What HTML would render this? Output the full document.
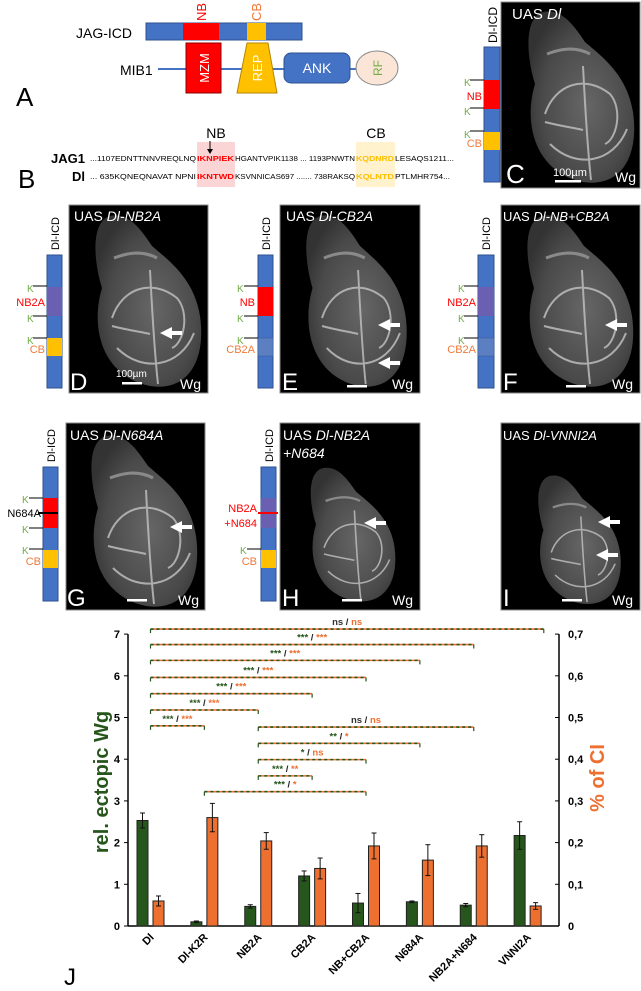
<!DOCTYPE html>
<html><head><meta charset="utf-8"><style>
html,body{margin:0;padding:0;background:#fff;}
svg{display:block;font-family:"Liberation Sans",Arial,sans-serif;}
</style></head><body>
<svg id="fig" width="641" height="991" viewBox="0 0 641 991" xmlns="http://www.w3.org/2000/svg">
<defs>
<radialGradient id="tg" cx="55%" cy="55%" r="60%"><stop offset="0" stop-color="#666"/><stop offset="0.7" stop-color="#4a4a4a"/><stop offset="1" stop-color="#333"/></radialGradient>
<g id="blob">
<path d="M38,8 C18,14 22,55 30,80 C18,120 30,168 78,178 C118,184 134,150 128,108 C122,70 96,52 80,38 C68,20 56,4 38,8 Z" fill="url(#tg)"/>
<path d="M40,110 C50,80 80,70 105,90 C118,105 112,135 100,140 M45,140 C70,165 108,160 122,125 M78,62 C80,100 82,140 86,176 M40,118 C55,122 70,124 78,126" fill="none" stroke="#bdbdbd" stroke-width="2" opacity="0.85"/>
<path d="M42,50 C55,45 70,42 85,50" fill="none" stroke="#8a8a8a" stroke-width="3"/>
</g>
</defs>

<!-- Panel A -->
<text x="16" y="106" font-size="26">A</text>
<text x="76" y="38" font-size="14">JAG-ICD</text>
<rect x="146" y="23" width="156" height="17" fill="#4472c4" stroke="#2f528f"/>
<rect x="183" y="23" width="36" height="17" fill="#ff0000"/>
<rect x="247" y="23" width="19" height="17" fill="#ffc000"/>
<text transform="translate(206,21) rotate(-90)" font-size="13" fill="#ff0000">NB</text>
<text transform="translate(261,21) rotate(-90)" font-size="13" fill="#f07a3a">CB</text>
<text x="120" y="75" font-size="14">MIB1</text>
<line x1="158" y1="69" x2="358" y2="69" stroke="#4472c4" stroke-width="2"/>
<rect x="186" y="43" width="35" height="50" fill="#ff0000" stroke="#8b0000"/>
<text transform="translate(209,68) rotate(-90)" font-size="13" fill="#fff" text-anchor="middle">MZM</text>
<path d="M247,43 L268,43 L277,93 L237,93 Z" fill="#ffc000" stroke="#b38600"/>
<text transform="translate(262,68) rotate(-90)" font-size="13" fill="#fff" text-anchor="middle">REP</text>
<rect x="284" y="53" width="66" height="30" rx="7" fill="#4472c4" stroke="#2f528f"/>
<text x="317" y="73" font-size="14" fill="#fff" text-anchor="middle">ANK</text>
<ellipse cx="377" cy="68" rx="21" ry="17" fill="#fbe5d6" stroke="#888"/>
<text transform="translate(382,68) rotate(-90)" font-size="12" fill="#70ad47" text-anchor="middle">RF</text>

<!-- Panel B -->
<text x="18" y="188" font-size="26">B</text>
<rect x="197" y="142" width="38" height="45" fill="#fbd5d5"/>
<rect x="356" y="142" width="39" height="45" fill="#fff2cc"/>
<text x="216" y="138" font-size="14" text-anchor="middle">NB</text>
<text x="376" y="138" font-size="14" text-anchor="middle">CB</text>
<line x1="210" y1="141" x2="210" y2="152" stroke="#000" stroke-width="1"/>
<path d="M207,149 L210,154 L213,149 Z" fill="#000"/>
<text x="85" y="163" font-size="13" font-weight="bold" text-anchor="end">JAG1</text>
<text x="85" y="181" font-size="13" font-weight="bold" text-anchor="end">Dl</text>
<g font-size="7">
<text x="90" y="161" textLength="106" lengthAdjust="spacingAndGlyphs">...1107EDNTTNNVREQLNQ</text>
<text x="197" y="161" textLength="37" lengthAdjust="spacingAndGlyphs" fill="#ff0000" font-weight="bold">IKNPIEK</text>
<text x="235" y="161" textLength="120" lengthAdjust="spacingAndGlyphs">HGANTVPIK1138 ... 1193PNWTN</text>
<text x="356" y="161" textLength="38" lengthAdjust="spacingAndGlyphs" fill="#ffc000" font-weight="bold">KQDNRD</text>
<text x="395" y="161" textLength="59" lengthAdjust="spacingAndGlyphs">LESAQS1211...</text>
</g>
<g font-size="7">
<text x="90" y="179" textLength="106" lengthAdjust="spacingAndGlyphs">... 635KQNEQNAVAT NPNI</text>
<text x="197" y="179" textLength="37" lengthAdjust="spacingAndGlyphs" fill="#ff0000" font-weight="bold">IKNTWD</text>
<text x="235" y="179" textLength="120" lengthAdjust="spacingAndGlyphs">KSVNNICAS697 ....... 738RAKSQ</text>
<text x="356" y="179" textLength="38" lengthAdjust="spacingAndGlyphs" fill="#ffc000" font-weight="bold">KQLNTD</text>
<text x="395" y="179" textLength="55" lengthAdjust="spacingAndGlyphs">PTLMHR754...</text>
</g>

<!-- Panel C -->
<g>
<rect x="501" y="2" width="139" height="186" fill="#000" stroke="#888"/>
<use href="#blob" transform="translate(505,4) scale(1.0,1.0)"/>
<text x="512" y="19" font-size="15" fill="#fff">UAS <tspan font-style="italic">Dl</tspan></text>
<text x="506" y="183" font-size="26" fill="#fff">C</text>
<text x="553" y="176" font-size="11" fill="#fff">100µm</text>
<rect x="555" y="180" width="26" height="2.5" fill="#fff"/>
<text x="615" y="182" font-size="14" fill="#fff">Wg</text>
<text transform="translate(497,43) rotate(-90)" font-size="12">Dl-ICD</text>
<rect x="484" y="47" width="16" height="135" fill="#4472c4" stroke="#2f528f"/>
<rect x="484" y="80" width="16" height="29" fill="#ff0000"/>
<rect x="484" y="132" width="16" height="18" fill="#ffc000"/>
<line x1="470" y1="80" x2="484" y2="80" stroke="#000"/><line x1="470" y1="108" x2="484" y2="108" stroke="#000"/><line x1="470" y1="131" x2="484" y2="131" stroke="#000"/>
<text x="464" y="86" font-size="10" fill="#70ad47">K</text><text x="464" y="115" font-size="10" fill="#70ad47">K</text><text x="464" y="138" font-size="10" fill="#70ad47">K</text>
<text x="482" y="100" font-size="11" fill="#ff0000" text-anchor="end">NB</text>
<text x="482" y="147" font-size="11" fill="#f07a3a" text-anchor="end">CB</text>
</g>

<!-- Panel D -->
<g>
<rect x="69" y="205" width="139" height="188" fill="#000" stroke="#888"/>
<use href="#blob" transform="translate(72,208)"/>
<text x="74" y="221" font-size="14" fill="#fff">UAS <tspan font-style="italic">Dl-NB2A</tspan></text>
<text x="70" y="390" font-size="24" fill="#fff">D</text>
<text x="116" y="377" font-size="10" fill="#fff">100µm</text>
<rect x="122" y="382" width="20" height="2.5" fill="#fff"/>
<text x="180" y="389" font-size="14" fill="#fff">Wg</text>
<text transform="translate(59,250) rotate(-90)" font-size="11">Dl-ICD</text>
<rect x="47" y="255" width="15" height="133" fill="#4472c4" stroke="#2f528f"/>
<rect x="47" y="287" width="15" height="29" fill="#6a5fb0"/>
<rect x="47" y="338" width="15" height="18" fill="#ffc000"/>
<line x1="33" y1="286" x2="47" y2="286" stroke="#000"/><line x1="33" y1="316" x2="47" y2="316" stroke="#000"/><line x1="33" y1="338" x2="47" y2="338" stroke="#000"/>
<text x="27" y="292" font-size="10" fill="#70ad47">K</text><text x="27" y="322" font-size="10" fill="#70ad47">K</text><text x="27" y="344" font-size="10" fill="#70ad47">K</text>
<text x="45" y="306" font-size="11" fill="#ff0000" text-anchor="end">NB2A</text>
<text x="45" y="353" font-size="11" fill="#f07a3a" text-anchor="end">CB</text>
<path d="M160,333 L172,327 L172,331 L182,331 L182,335 L172,335 L172,339 Z" fill="#fff"/>
</g>

<!-- Panel E -->
<g>
<rect x="280" y="205" width="140" height="188" fill="#000" stroke="#888"/>
<use href="#blob" transform="translate(284,208) scale(0.95,1)"/>
<text x="286" y="221" font-size="14" fill="#fff">UAS <tspan font-style="italic">Dl-CB2A</tspan></text>
<text x="282" y="390" font-size="24" fill="#fff">E</text>
<rect x="347" y="385" width="20" height="2.5" fill="#fff"/>
<text x="392" y="389" font-size="14" fill="#fff">Wg</text>
<text transform="translate(270,250) rotate(-90)" font-size="11">Dl-ICD</text>
<rect x="258" y="255" width="15" height="133" fill="#4472c4" stroke="#2f528f"/>
<rect x="258" y="287" width="15" height="29" fill="#ff0000"/>
<rect x="258" y="338" width="15" height="18" fill="#5b7fc0" stroke="#3a5a9a" stroke-width="0.5"/>
<line x1="244" y1="286" x2="258" y2="286" stroke="#000"/><line x1="244" y1="316" x2="258" y2="316" stroke="#000"/><line x1="244" y1="338" x2="258" y2="338" stroke="#000"/>
<text x="237" y="292" font-size="10" fill="#70ad47">K</text><text x="237" y="322" font-size="10" fill="#70ad47">K</text><text x="237" y="344" font-size="10" fill="#70ad47">K</text>
<text x="255" y="306" font-size="11" fill="#ff0000" text-anchor="end">NB</text>
<text x="255" y="353" font-size="11" fill="#f07a3a" text-anchor="end">CB2A</text>
<path d="M378,325 L390,319 L390,323 L400,323 L400,327 L390,327 L390,331 Z" fill="#fff"/>
<path d="M378,363 L390,357 L390,361 L400,361 L400,365 L390,365 L390,369 Z" fill="#fff"/>
</g>

<!-- Panel F -->
<g>
<rect x="501" y="205" width="139" height="188" fill="#000" stroke="#888"/>
<use href="#blob" transform="translate(504,208)"/>
<text x="503" y="221" font-size="13" fill="#fff">UAS <tspan font-style="italic">Dl-NB+CB2A</tspan></text>
<text x="503" y="390" font-size="24" fill="#fff">F</text>
<rect x="566" y="385" width="20" height="2.5" fill="#fff"/>
<text x="612" y="389" font-size="14" fill="#fff">Wg</text>
<text transform="translate(490,250) rotate(-90)" font-size="11">Dl-ICD</text>
<rect x="478" y="255" width="16" height="133" fill="#4472c4" stroke="#2f528f"/>
<rect x="478" y="287" width="16" height="29" fill="#6a5fb0"/>
<rect x="478" y="338" width="16" height="18" fill="#5b7fc0" stroke="#3a5a9a" stroke-width="0.5"/>
<line x1="464" y1="286" x2="478" y2="286" stroke="#000"/><line x1="464" y1="316" x2="478" y2="316" stroke="#000"/><line x1="464" y1="338" x2="478" y2="338" stroke="#000"/>
<text x="458" y="292" font-size="10" fill="#70ad47">K</text><text x="458" y="322" font-size="10" fill="#70ad47">K</text><text x="458" y="344" font-size="10" fill="#70ad47">K</text>
<text x="476" y="306" font-size="11" fill="#ff0000" text-anchor="end">NB2A</text>
<text x="476" y="353" font-size="11" fill="#f07a3a" text-anchor="end">CB2A</text>
<path d="M605,325 L617,319 L617,323 L627,323 L627,327 L617,327 L617,331 Z" fill="#fff"/>
</g>

<!-- Panel G -->
<g>
<rect x="66" y="423" width="139" height="187" fill="#000" stroke="#888"/>
<use href="#blob" transform="translate(68,428)"/>
<text x="70" y="440" font-size="14" fill="#fff">UAS <tspan font-style="italic">Dl-N684A</tspan></text>
<text x="67" y="606" font-size="24" fill="#fff">G</text>
<rect x="127" y="599" width="20" height="2.5" fill="#fff"/>
<text x="178" y="605" font-size="14" fill="#fff">Wg</text>
<text transform="translate(55,462) rotate(-90)" font-size="11">Dl-ICD</text>
<rect x="43" y="467" width="15" height="134" fill="#4472c4" stroke="#2f528f"/>
<rect x="43" y="498" width="15" height="30" fill="#ff0000"/>
<line x1="38" y1="513" x2="58" y2="513" stroke="#000" stroke-width="2"/>
<rect x="43" y="550" width="15" height="18" fill="#ffc000"/>
<line x1="29" y1="498" x2="43" y2="498" stroke="#000"/><line x1="29" y1="528" x2="43" y2="528" stroke="#000"/><line x1="29" y1="549" x2="43" y2="549" stroke="#000"/>
<text x="22" y="503" font-size="10" fill="#70ad47">K</text><text x="22" y="533" font-size="10" fill="#70ad47">K</text><text x="22" y="554" font-size="10" fill="#70ad47">K</text>
<text x="41" y="517" font-size="11" text-anchor="end">N684A</text>
<text x="41" y="565" font-size="11" fill="#f07a3a" text-anchor="end">CB</text>
<path d="M170,527 L182,521 L182,525 L192,525 L192,529 L182,529 L182,533 Z" fill="#fff"/>
</g>

<!-- Panel H -->
<g>
<rect x="280" y="423" width="140" height="187" fill="#000" stroke="#888"/>
<use href="#blob" transform="translate(292,462) scale(0.8,0.78)"/>
<text x="283" y="440" font-size="14" fill="#fff">UAS <tspan font-style="italic">Dl-NB2A</tspan></text>
<text x="283" y="458" font-size="14" fill="#fff" font-style="italic">+N684</text>
<text x="282" y="606" font-size="24" fill="#fff">H</text>
<rect x="342" y="599" width="20" height="2.5" fill="#fff"/>
<text x="392" y="605" font-size="14" fill="#fff">Wg</text>
<text transform="translate(273,462) rotate(-90)" font-size="11">Dl-ICD</text>
<rect x="261" y="467" width="15" height="134" fill="#4472c4" stroke="#2f528f"/>
<rect x="261" y="498" width="15" height="30" fill="#6a5fb0"/>
<line x1="258" y1="513" x2="278" y2="513" stroke="#ff0000" stroke-width="2"/>
<rect x="261" y="550" width="15" height="18" fill="#ffc000"/>
<line x1="247" y1="549" x2="261" y2="549" stroke="#000"/>
<text x="240" y="554" font-size="10" fill="#70ad47">K</text>
<text x="257" y="512" font-size="11" fill="#ff0000" text-anchor="end">NB2A</text>
<text x="257" y="527" font-size="11" fill="#ff0000" text-anchor="end">+N684</text>
<text x="257" y="565" font-size="11" fill="#f07a3a" text-anchor="end">CB</text>
<path d="M364,523 L376,517 L376,521 L386,521 L386,525 L376,525 L376,529 Z" fill="#fff"/>
</g>

<!-- Panel I -->
<g>
<rect x="501" y="423" width="139" height="187" fill="#000" stroke="#888"/>
<use href="#blob" transform="translate(520,470) scale(0.78,0.75)"/>
<text x="503" y="440" font-size="13" fill="#fff">UAS <tspan font-style="italic">Dl-VNNI2A</tspan></text>
<text x="503" y="606" font-size="24" fill="#fff">I</text>
<rect x="562" y="599" width="20" height="2.5" fill="#fff"/>
<text x="612" y="605" font-size="14" fill="#fff">Wg</text>
<path d="M598,522 L610,516 L610,520 L620,520 L620,524 L610,524 L610,528 Z" fill="#fff"/>
<path d="M596,555 L608,549 L608,553 L618,553 L618,557 L608,557 L608,561 Z" fill="#fff"/>
</g>

<!-- Panel J chart -->
<text x="64" y="985" font-size="24">J</text>
<g id="chart"></g>
</svg>
<script>
const categories = ["Dl","Dl-K2R","NB2A","CB2A","NB+CB2A","N684A","NB2A+N684","VNNI2A"];
const wgValues = [2.53,0.1,0.47,1.2,0.55,0.58,0.5,2.17];
const wgErrors = [0.18,0.02,0.04,0.12,0.23,0.02,0.04,0.33];
const ciValues = [0.06,0.26,0.204,0.138,0.192,0.158,0.192,0.048];
const ciErrors = [0.012,0.034,0.02,0.025,0.031,0.037,0.027,0.008];
const leftTicks = [0,1,2,3,4,5,6,7];
const rightTickLabels = ["0","0,1","0,2","0,3","0,4","0,5","0,6","0,7"];
const bracketStart = [0,0,0,0,0,0,0,2,2,2,2,1];
const bracketEnd = [7.3,6,5,4,3,2,1,6,5,4,3,4];
const bracketLevel = [7.12,6.75,6.37,5.96,5.57,5.18,4.8,4.77,4.38,3.99,3.6,3.22];
const bracketGreen = ["ns","***","***","***","***","***","***","ns","**","*","***","***"];
const bracketOrange = ["ns","***","***","***","***","***","***","ns","*","ns","**","*"];

const NS="http://www.w3.org/2000/svg";
const chart=document.getElementById('chart');
const xL=128,xR=559,y0=926,unit=41.7;
const band=(xR-xL)/categories.length;
function cx(i){return xL+band*i+22.5;}
function yW(v){return y0-v*unit;}
function yC(v){return y0-v*10*unit;}
function mk(tag,attrs,parent){const e=document.createElementNS(NS,tag);for(const k in attrs)e.setAttribute(k,attrs[k]);(parent||chart).appendChild(e);return e;}
const GREEN="#27561c",ORANGE="#ed7031";

let ax=mk('line',{x1:xL,y1:yW(7),x2:xL,y2:y0,stroke:'#000','stroke-width':1.5});


let axr=mk('line',{x1:xR,y1:yW(7),x2:xR,y2:y0,stroke:'#000','stroke-width':1.5});


let axb=mk('line',{x1:xL,y1:y0,x2:xR,y2:y0,stroke:'#000','stroke-width':1.5});


leftTicks.forEach((t,i)=>{
  mk('line',{x1:xL-4,y1:yW(t),x2:xL,y2:yW(t),stroke:'#000'});
  const lt=mk('text',{x:xL-8,y:yW(t)+4,'font-size':11,'font-weight':'bold','text-anchor':'end'});
  lt.textContent=t;
  
  
  mk('line',{x1:xR-4,y1:yW(t),x2:xR,y2:yW(t),stroke:'#000'});
  const rt=mk('text',{x:xR+9,y:yW(t)+4,'font-size':11,'font-weight':'bold'});
  rt.textContent=rightTickLabels[i];
  
  
});
const yt=mk('text',{transform:'translate(108,782) rotate(-90)','font-size':20,'font-weight':'bold',fill:GREEN,'text-anchor':'middle'});
yt.textContent='rel. ectopic Wg';


const yt2=mk('text',{transform:'translate(604,778) rotate(-90)','font-size':20,'font-weight':'bold',fill:ORANGE,'text-anchor':'middle'});
yt2.textContent='% of CI';



categories.forEach((c,i)=>{
  const gx=cx(i)-8,ox=cx(i)+8,w=11;
  const gb=mk('rect',{x:gx-w/2,y:yW(wgValues[i]),width:w,height:y0-yW(wgValues[i]),fill:GREEN,stroke:'#222','stroke-width':1});
  
  
  const ob=mk('rect',{x:ox-w/2,y:yC(ciValues[i]),width:w,height:y0-yC(ciValues[i]),fill:ORANGE,stroke:'#222','stroke-width':1});
  
  
  [[gx,yW(wgValues[i]+wgErrors[i]),yW(wgValues[i]-wgErrors[i])],[ox,yC(ciValues[i]+ciErrors[i]),yC(ciValues[i]-ciErrors[i])]].forEach(e=>{
    mk('line',{x1:e[0],y1:e[1],x2:e[0],y2:e[2],stroke:'#111'});
    mk('line',{x1:e[0]-2.5,y1:e[1],x2:e[0]+2.5,y2:e[1],stroke:'#111'});
    mk('line',{x1:e[0]-2.5,y1:e[2],x2:e[0]+2.5,y2:e[2],stroke:'#111'});
  });
  const lab=mk('text',{transform:`translate(${cx(i)+4},${y0+12}) rotate(-45)`,'font-size':11,'font-weight':'bold','text-anchor':'end'});
  lab.textContent=c;
  
  
});

bracketStart.forEach((s,k)=>{
  const x1=cx(s),x2=cx(bracketEnd[k]),y=yW(bracketLevel[k]);
  const g=mk('g',{});
  
  
  mk('line',{x1:x1,y1:y,x2:x2,y2:y,stroke:ORANGE,'stroke-width':1.6},g);
  mk('line',{x1:x1,y1:y,x2:x2,y2:y,stroke:GREEN,'stroke-width':1.6,'stroke-dasharray':'3 3'},g);
  mk('line',{x1:x1,y1:y,x2:x1,y2:y+4,stroke:GREEN,'stroke-width':1.2},g);
  mk('line',{x1:x2,y1:y,x2:x2,y2:y+4,stroke:GREEN,'stroke-width':1.2},g);
  const t=mk('text',{x:(x1+x2)/2,y:y-4,'font-size':9.5,'font-weight':'bold','text-anchor':'middle'},g);
  const a=mk('tspan',{fill:bracketGreen[k]==='ns'?'#333':GREEN},t);a.textContent=bracketGreen[k];
  const b=mk('tspan',{fill:'#222'},t);b.textContent=' / ';
  const c=mk('tspan',{fill:ORANGE},t);c.textContent=bracketOrange[k];
});
</script>
</body></html>
